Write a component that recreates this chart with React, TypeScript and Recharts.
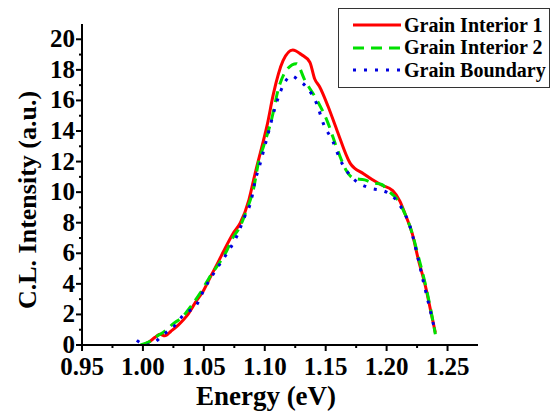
import React from "react";
import { LineChart, Line, XAxis, YAxis } from "recharts";

// Grain Interior 1 (red, solid)
const interior1 = [
  { e: 1.0, v: 0.0 }, { e: 1.005, v: 0.2 }, { e: 1.01, v: 0.5 }, { e: 1.014, v: 0.7 },
  { e: 1.018, v: 0.6 }, { e: 1.023, v: 0.9 }, { e: 1.029, v: 1.3 }, { e: 1.036, v: 1.9 },
  { e: 1.044, v: 2.9 }, { e: 1.05, v: 3.6 }, { e: 1.055, v: 4.4 }, { e: 1.061, v: 5.3 },
  { e: 1.066, v: 6.1 }, { e: 1.074, v: 7.3 }, { e: 1.08, v: 8.0 }, { e: 1.087, v: 9.5 },
  { e: 1.092, v: 11.2 }, { e: 1.099, v: 13.4 }, { e: 1.102, v: 14.4 }, { e: 1.107, v: 16.4 },
  { e: 1.115, v: 18.6 }, { e: 1.123, v: 19.3 }, { e: 1.13, v: 19.0 }, { e: 1.137, v: 18.5 },
  { e: 1.141, v: 17.4 }, { e: 1.145, v: 16.9 }, { e: 1.152, v: 15.6 }, { e: 1.159, v: 14.1 },
  { e: 1.17, v: 11.9 }, { e: 1.181, v: 11.2 }, { e: 1.195, v: 10.5 }, { e: 1.205, v: 10.1 },
  { e: 1.211, v: 9.4 }, { e: 1.215, v: 8.6 }, { e: 1.221, v: 7.3 }, { e: 1.226, v: 5.6 },
  { e: 1.232, v: 3.8 }, { e: 1.236, v: 2.3 }, { e: 1.24, v: 0.8 },
];

// Grain Interior 2 (green, dashed)
const interior2 = [
  { e: 0.998, v: 0.0 }, { e: 1.005, v: 0.2 }, { e: 1.012, v: 0.6 }, { e: 1.018, v: 0.9 },
  { e: 1.025, v: 1.4 }, { e: 1.032, v: 1.8 }, { e: 1.04, v: 2.6 }, { e: 1.047, v: 3.4 },
  { e: 1.056, v: 4.6 }, { e: 1.063, v: 5.4 }, { e: 1.069, v: 6.2 }, { e: 1.073, v: 6.9 },
  { e: 1.08, v: 7.8 }, { e: 1.085, v: 8.8 }, { e: 1.091, v: 10.3 }, { e: 1.095, v: 12.0 },
  { e: 1.099, v: 13.0 }, { e: 1.106, v: 14.9 }, { e: 1.111, v: 16.7 }, { e: 1.118, v: 18.0 },
  { e: 1.126, v: 18.4 }, { e: 1.133, v: 17.3 }, { e: 1.143, v: 16.0 }, { e: 1.151, v: 14.7 },
  { e: 1.16, v: 12.7 }, { e: 1.167, v: 11.4 }, { e: 1.173, v: 10.9 }, { e: 1.182, v: 10.8 },
  { e: 1.189, v: 10.6 }, { e: 1.196, v: 10.5 }, { e: 1.201, v: 10.1 }, { e: 1.208, v: 9.6 },
  { e: 1.215, v: 8.6 }, { e: 1.221, v: 7.3 }, { e: 1.226, v: 5.8 }, { e: 1.232, v: 3.9 },
  { e: 1.236, v: 2.4 }, { e: 1.24, v: 0.7 },
];

// Grain Boundary (blue, dotted)
const boundary = [
  { e: 0.995, v: 0.3 }, { e: 1.0, v: 0.05 }, { e: 1.004, v: 0.0 }, { e: 1.01, v: 0.2 },
  { e: 1.017, v: 0.7 }, { e: 1.024, v: 1.1 }, { e: 1.035, v: 2.1 }, { e: 1.043, v: 2.5 },
  { e: 1.05, v: 3.6 }, { e: 1.059, v: 4.8 }, { e: 1.069, v: 6.0 }, { e: 1.077, v: 7.1 },
  { e: 1.083, v: 8.3 }, { e: 1.089, v: 9.5 }, { e: 1.092, v: 10.7 }, { e: 1.096, v: 11.8 },
  { e: 1.1, v: 13.0 }, { e: 1.104, v: 14.2 }, { e: 1.108, v: 15.4 }, { e: 1.113, v: 16.6 },
  { e: 1.122, v: 17.6 }, { e: 1.128, v: 17.3 }, { e: 1.134, v: 16.9 }, { e: 1.143, v: 15.7 },
  { e: 1.148, v: 14.5 }, { e: 1.156, v: 13.3 }, { e: 1.162, v: 12.1 }, { e: 1.17, v: 11.1 },
  { e: 1.177, v: 10.6 }, { e: 1.185, v: 10.3 }, { e: 1.2, v: 10.0 }, { e: 1.212, v: 9.0 },
  { e: 1.219, v: 7.8 }, { e: 1.226, v: 5.6 }, { e: 1.23, v: 4.2 }, { e: 1.233, v: 3.2 },
  { e: 1.237, v: 1.85 }, { e: 1.24, v: 0.8 },
];

const xTicks = [0.95, 0.975, 1.0, 1.025, 1.05, 1.075, 1.1, 1.125, 1.15, 1.175, 1.2, 1.225, 1.25];
const yTicks = [0, 1, 2, 3, 4, 5, 6, 7, 8, 9, 10, 11, 12, 13, 14, 15, 16, 17, 18, 19, 20];

const series = [
  { name: "Grain Interior 1", data: interior1, color: "#ff0000", dash: undefined },
  { name: "Grain Interior 2", data: interior2, color: "#00e000", dash: "11 7" },
  { name: "Grain Boundary", data: boundary, color: "#0000e0", dash: "3 8" },
];

const FONT = "Times New Roman, Liberation Serif, DejaVu Serif, serif";
const textStyle = { fontFamily: FONT, fontWeight: 700 };

const isMajorX = (v: number) => Math.round(v * 1000) % 50 === 0;

const BottomTick = (props: any) => {
  const { x, y, payload } = props;
  const major = isMajorX(payload.value);
  return (
    <g>
      <line x1={x} x2={x} y1={y} y2={y + (major ? 6 : 3)} stroke="#000" strokeWidth={2} />
      {major && (
        <text x={x} y={y + 30} textAnchor="middle" style={textStyle} fontSize={25} fill="#000">
          {payload.value.toFixed(2)}
        </text>
      )}
    </g>
  );
};

const LeftTick = (props: any) => {
  const { x, y, payload } = props;
  const major = payload.value % 2 === 0;
  return (
    <g>
      <line x1={x} x2={x - (major ? 6 : 3)} y1={y} y2={y} stroke="#000" strokeWidth={2} />
      {major && (
        <text x={x - 7} y={y + 8} textAnchor="end" style={textStyle} fontSize={25} fill="#000">
          {payload.value}
        </text>
      )}
    </g>
  );
};

const LegendBox = () => (
  <div
    style={{
      position: "absolute",
      left: 338,
      top: 8,
      background: "#fff",
      border: "1.5px solid #333",
      width: 212,
      height: 80,
      boxSizing: "border-box",
      paddingTop: 5,
    }}
  >
    {series.map((s) => (
      <div key={s.name} style={{ display: "flex", alignItems: "center", height: 22.5, whiteSpace: "nowrap" }}>
        <svg width={50} height={10} style={{ marginLeft: 13, flex: "none" }}>
          <line x1={1} x2={49} y1={5} y2={5} stroke={s.color} strokeWidth={3} strokeDasharray={s.dash} />
        </svg>
        <span style={{ ...textStyle, fontSize: 20, color: "#000", marginLeft: 2 }}>{s.name}</span>
      </div>
    ))}
  </div>
);

export default function App() {
  return (
    <div style={{ position: "absolute", left: 0, top: 0, width: 553, height: 412, background: "#fff" }}>
      <LineChart width={553} height={412} margin={{ top: 24, right: 75, bottom: 0, left: 0 }}>
        <XAxis
          xAxisId="b"
          dataKey="e"
          type="number"
          domain={[0.95, 1.275]}
          allowDataOverflow
          ticks={xTicks}
          interval={0}
          height={67}
          tickSize={0}
          tickMargin={0}
          tickLine={false}
          tick={<BottomTick />}
          axisLine={{ stroke: "#000", strokeWidth: 2 }}
        />
        <XAxis
          xAxisId="t"
          orientation="top"
          dataKey="e"
          type="number"
          domain={[0.95, 1.275]}
          allowDataOverflow
          ticks={xTicks}
          interval={0}
          height={0}
          mirror
          tick={false}
          tickSize={4}
          tickLine={{ stroke: "#000", strokeWidth: 2 }}
          axisLine={{ stroke: "#000", strokeWidth: 2 }}
        />
        <YAxis
          yAxisId="l"
          type="number"
          domain={[0, 21]}
          allowDataOverflow
          ticks={yTicks}
          interval={0}
          width={82}
          tickSize={0}
          tickMargin={0}
          tickLine={false}
          tick={<LeftTick />}
          axisLine={{ stroke: "#000", strokeWidth: 2 }}
        />
        <YAxis
          yAxisId="r"
          orientation="right"
          type="number"
          domain={[0, 21]}
          allowDataOverflow
          ticks={yTicks}
          interval={0}
          width={0}
          mirror
          tick={false}
          tickSize={4}
          tickLine={{ stroke: "#000", strokeWidth: 2 }}
          axisLine={{ stroke: "#000", strokeWidth: 2 }}
        />
        {series.map((s) => (
          <Line
            key={s.name}
            xAxisId="b"
            yAxisId="l"
            data={s.data}
            dataKey="v"
            name={s.name}
            type="monotone"
            stroke={s.color}
            strokeWidth={3}
            strokeDasharray={s.dash}
            dot={false}
            isAnimationActive={false}
          />
        ))}
        <text x={266} y={405} textAnchor="middle" style={textStyle} fontSize={27} fill="#000">
          Energy (eV)
        </text>
        <text
          x={36}
          y={200}
          textAnchor="middle"
          transform="rotate(-90 36 200)"
          style={textStyle}
          fontSize={26}
          fill="#000"
        >
          C.L. Intensity (a.u.)
        </text>
      </LineChart>
      <LegendBox />
    </div>
  );
}
